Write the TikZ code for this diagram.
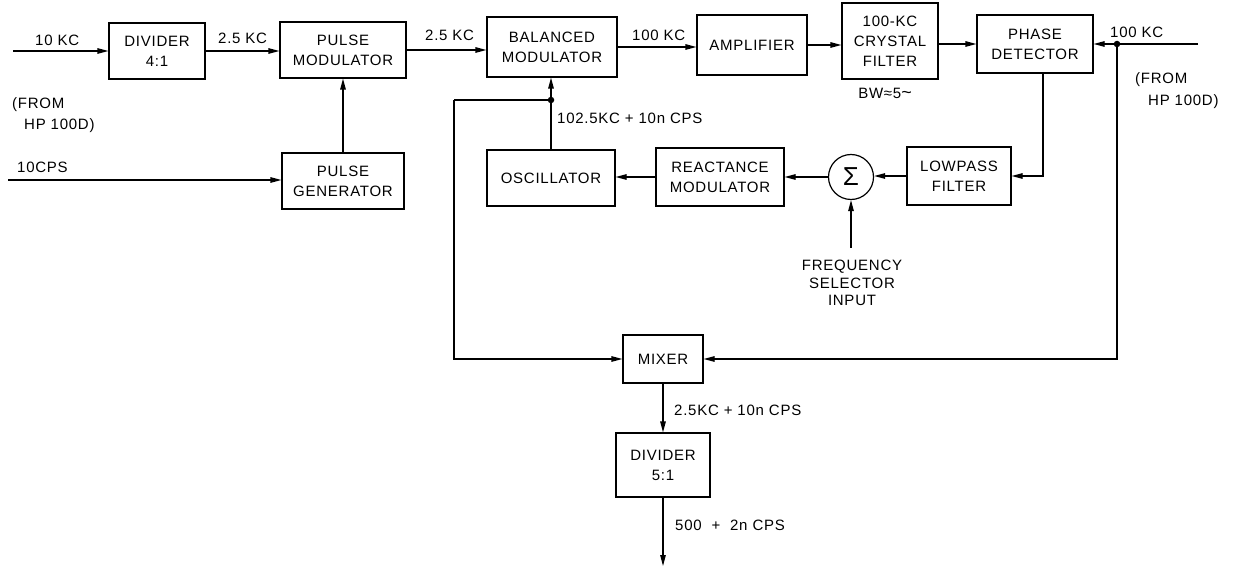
\documentclass[tikz,border=0pt]{standalone}
\usepackage{fontspec}
\setmainfont{Liberation Sans}[LetterSpace=5.0]
\usetikzlibrary{arrows.meta}
\begin{document}
\begin{tikzpicture}[x=1pt,y=-1pt,
  every node/.style={font=\fontsize{15}{20}\selectfont, inner sep=0pt},
  box/.style={draw, line width=1.2pt, align=center},
  sumnode/.style={draw, line width=1.2pt, circle, minimum size=45pt},
  lbl/.style={anchor=west},
  arr/.style={line width=1.2pt, -{Triangle[length=11pt,width=5.5pt]}},
  ln/.style={line width=1.2pt},
  dot/.style={circle, fill, minimum size=6.5pt, inner sep=0pt}]
\useasboundingbox (0,0) rectangle (1233,569);
% boxes
\node[box, minimum width=96pt, minimum height=56pt] (div4) at (157,51) {DIVIDER\\4:1};
\node[box, minimum width=126pt, minimum height=56pt] (pmod) at (343,50) {PULSE\\MODULATOR};
\node[box, minimum width=122pt, minimum height=56pt] (pgen) at (343,181) {PULSE\\GENERATOR};
\node[box, minimum width=130pt, minimum height=60pt] (bmod) at (552,47) {BALANCED\\MODULATOR};
\node[box, minimum width=110pt, minimum height=60pt] (amp) at (752,45) {AMPLIFIER};
\node[box, minimum width=96pt, minimum height=76pt] (xtal) at (890,41) {100-KC\\CRYSTAL\\FILTER};
\node[box, minimum width=116pt, minimum height=58pt] (pdet) at (1035,44) {PHASE\\DETECTOR};
\node[box, minimum width=104pt, minimum height=58pt] (lpf) at (959,176) {LOWPASS\\FILTER};
\node[sumnode] (sum) at (851,177) {\fontsize{26}{26}\selectfont Σ};
\node[box, minimum width=128pt, minimum height=58pt] (rmod) at (720,177) {REACTANCE\\MODULATOR};
\node[box, minimum width=128pt, minimum height=56pt] (osc) at (551,178) {OSCILLATOR};
\node[box, minimum width=80pt, minimum height=48pt] (mixer) at (663,359) {MIXER};
\node[box, minimum width=94pt, minimum height=64pt] (div5) at (663,465) {DIVIDER\\5:1};
% free ends
\coordinate (in10) at (13,51);
\coordinate (incps) at (8,180);
\coordinate (in100) at (1198,44);
\coordinate (freqin) at (851,248);
\coordinate (out) at (663,566);
\coordinate (lft) at (454,100);
\node[dot] (j1) at (1117,44) {};
\node[dot] (j2) at (551,100) {};
% connectors
\draw[arr] (in10) -- (in10 -| div4.west);
\draw[arr] (div4.east) -- (div4.east -| pmod.west);
\draw[arr] (incps) -- (incps -| pgen.west);
\draw[arr] (pgen.north) -- (pgen.north |- pmod.south);
\draw[arr] (pmod.east) -- (pmod.east -| bmod.west);
\draw[arr] (bmod.east) -- (bmod.east -| amp.west);
\draw[arr] (amp.east) -- (amp.east -| xtal.west);
\draw[arr] (xtal.east |- pdet.east) -- (pdet.east -| pdet.west);
\draw[arr] (in100) -- (pdet.east);
\draw[arr] (j1) |- (mixer.east);
\draw[arr] ([xshift=8pt]pdet.south) |- (lpf.east);
\draw[arr] (lpf.west) -- (lpf.west -| sum.east);
\draw[arr] (sum.west) -- (sum.west -| rmod.east);
\draw[arr] (rmod.west) -- (rmod.west -| osc.east);
\draw[arr] (osc.north) -- (osc.north |- bmod.south);
\draw[ln] (j2) -- (lft);
\draw[arr] (lft) |- (mixer.west);
\draw[arr] (freqin) -- (sum.south);
\draw[arr] (mixer.south) -- (div5.north);
\draw[arr] (div5.south) -- (out);
% labels
\node[lbl] (l10kc) at (35,40) {10 KC};
\node[lbl] (lfrom1) at (12,105) {(FROM};
\node[lbl] (lfrom2) at (24,126) {HP 100D)};
\node[lbl] (lcps) at (17,167) {10CPS};
\node[lbl] (l25a) at (218,38) {2.5 KC};
\node[lbl] (l25b) at (425,35) {2.5 KC};
\node[lbl] (l100a) at (632,35) {100 KC};
\node[lbl] (losc) at (557,118) {102.5KC + 10n CPS};
\node (lbw) at (885,93) {BW≈5{\fontsize{18}{18}\selectfont\char"7E}};
\node[lbl] (l100b) at (1110,32) {100 KC};
\node[lbl] (lfrom3) at (1135,80) {(FROM};
\node[lbl] (lfrom4) at (1148,102) {HP 100D)};
\node[align=center, font=\fontsize{15}{17.5}\selectfont] (lfreq) at (852,283) {FREQUENCY\\SELECTOR\\INPUT};
\node[lbl] (lmix) at (674,410) {2.5KC + 10n CPS};
\node[lbl] (lout) at (675,525) {500 \ + \ 2n CPS};
\end{tikzpicture}
\end{document}
